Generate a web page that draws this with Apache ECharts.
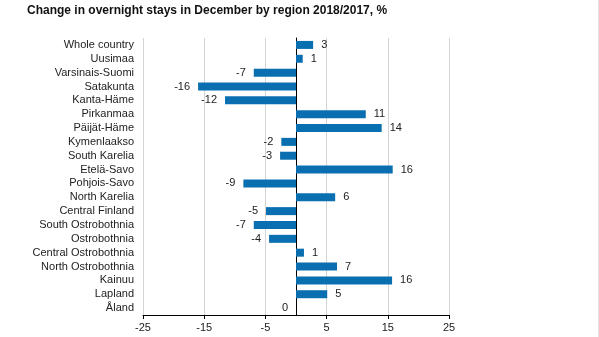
<!DOCTYPE html>
<html><head><meta charset="utf-8">
<script src="https://cdn.jsdelivr.net/npm/echarts@6/dist/echarts.min.js"></script>
<style>html,body{margin:0;padding:0;background:#fff}#c{width:599px;height:337px}</style>
</head><body><div id="c"></div>
<script>
const regions = ["Whole country","Uusimaa","Varsinais-Suomi","Satakunta","Kanta-Häme","Pirkanmaa","Päijät-Häme","Kymenlaakso","South Karelia","Etelä-Savo","Pohjois-Savo","North Karelia","Central Finland","South Ostrobothnia","Ostrobothnia","Central Ostrobothnia","North Ostrobothnia","Kainuu","Lapland","Åland"];
const changes = [2.8,1.1,-6.9,-16.0,-11.6,11.4,14.0,-2.4,-2.6,15.8,-8.6,6.4,-4.9,-6.9,-4.4,1.3,6.7,15.7,5.1,0];
const xTicks = [-25,-15,-5,5,15,25];
const titleText = "Change in overnight stays in December by region 2018/2017, %";

const chart = echarts.init(document.getElementById('c'), null, {renderer:'canvas'});
const font = 'Liberation Sans, Arial, sans-serif';
chart.setOption({
  animation:false,
  title:{text:titleText,left:22,top:0,textStyle:{fontFamily:font,fontSize:12,fontWeight:'bold',color:'#111'}},
  grid:{left:143,right:150,top:38,bottom:22,containLabel:false},
  xAxis:{type:'value',min:-25,max:25,interval:10,
    axisLine:{show:true,onZero:false,lineStyle:{color:'#000',width:1}},
    axisTick:{show:true,length:4,lineStyle:{color:'#000'}},
    axisLabel:{fontFamily:font,fontSize:11,color:'#222',margin:7,
      formatter:v=>xTicks.includes(v)?String(v):''},
    splitLine:{show:true,lineStyle:{color:'#d4d4d4',width:1}}},
  yAxis:{type:'category',data:regions,inverse:true,
    axisLine:{show:true,onZero:true,lineStyle:{color:'#000',width:1}},
    axisTick:{show:false},
    axisLabel:{fontFamily:font,fontSize:11,color:'#222',margin:9,interval:0}},
  series:[{type:'bar',barWidth:8,itemStyle:{color:'#0a6fb0'},
    data:changes.map(v=>({value:v,label:{position:v>0?'right':'left'}})),
    label:{show:true,fontFamily:font,fontSize:11,color:'#222',distance:8,
      formatter:p=>String(Math.round(p.value))}}],
  graphic:[{type:'line',shape:{x1:598.5,y1:0,x2:598.5,y2:337},style:{stroke:'#e2e2e2',lineWidth:1}}]
});
</script></body></html>
